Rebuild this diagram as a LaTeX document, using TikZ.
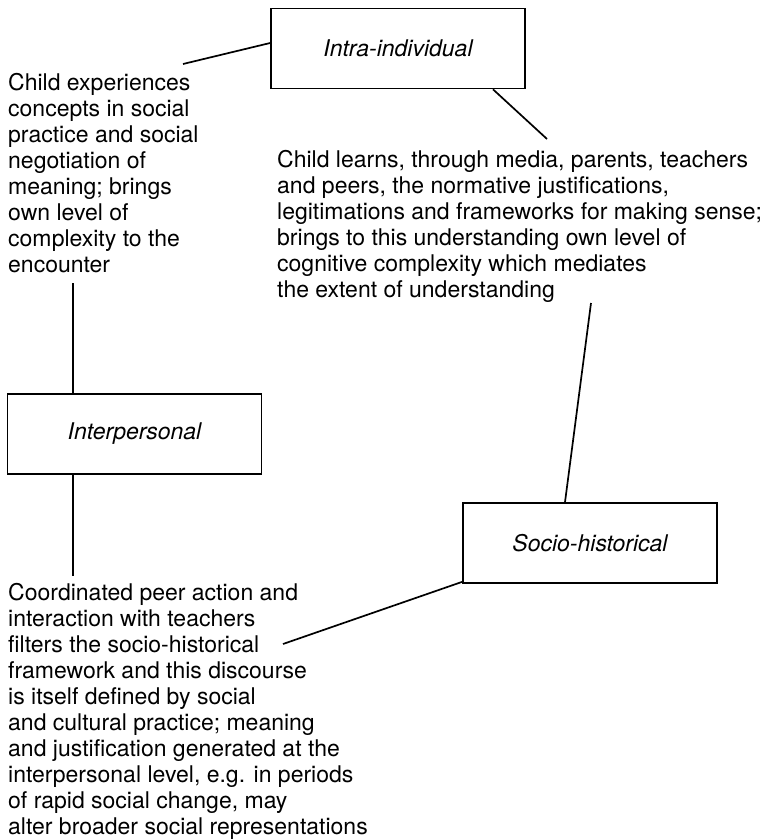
\documentclass[tikz,border=0pt]{standalone}
\usepackage{fontspec}
\setmainfont{TeX Gyre Heros}
\begin{document}
\begin{tikzpicture}[x=1pt,y=-1pt,
  levelbox/.style={draw,line width=1.7pt,minimum width=254pt,minimum height=80pt,inner sep=0pt,
    font=\fontsize{23}{26}\selectfont\itshape},
  bodytext/.style={anchor=base west,align=left,inner sep=0pt,font=\fontsize{23}{26}\selectfont},
  conn/.style={line width=1.7pt}]
\useasboundingbox (0,0) rectangle (769,840);

\node[levelbox] (intra) at (398,48.5) {Intra-individual};
\node[levelbox] (inter) at (134.5,434) {Interpersonal};
\node[levelbox] (socio) at (590,543) {Socio-historical};

\node[bodytext] (tleft) at (8,272) {Child experiences\\concepts in social\\practice and social\\negotiation of\\meaning; brings\\own level of\\complexity to the\\encounter};
\node[bodytext] (tright) at (277,297) {Child learns, through media, parents, teachers\\and peers, the normative justifications,\\legitimations and frameworks for making sense;\\brings to this understanding own level of\\cognitive complexity which mediates\\the extent of understanding};
\node[bodytext] (tbottom) at (8,834) {Coordinated peer action and\\interaction with teachers\\filters the socio-historical\\framework and this discourse\\is itself defined by social\\and cultural practice; meaning\\and justification generated at the\\interpersonal level, e.g. in periods\\of rapid social change, may\\alter broader social representations};

\coordinate (e1) at (183,64);
\coordinate (e2) at (547,139);
\coordinate (e3) at (73,283);
\coordinate (e4) at (73,576);
\coordinate (e5) at (591,303);
\coordinate (e6) at (283,644);

\draw[conn] (e1) -- ([yshift=5.5pt]intra.west);
\draw[conn] ([xshift=95pt]intra.south) -- (e2);
\draw[conn] (e3) -- (e3 |- inter.north);
\draw[conn] (inter.south -| e4) -- (e4);
\draw[conn] (e5) -- ([xshift=-25pt]socio.north);
\draw[conn] (e6) -- ([yshift=2pt]socio.south west);
\end{tikzpicture}
\end{document}
